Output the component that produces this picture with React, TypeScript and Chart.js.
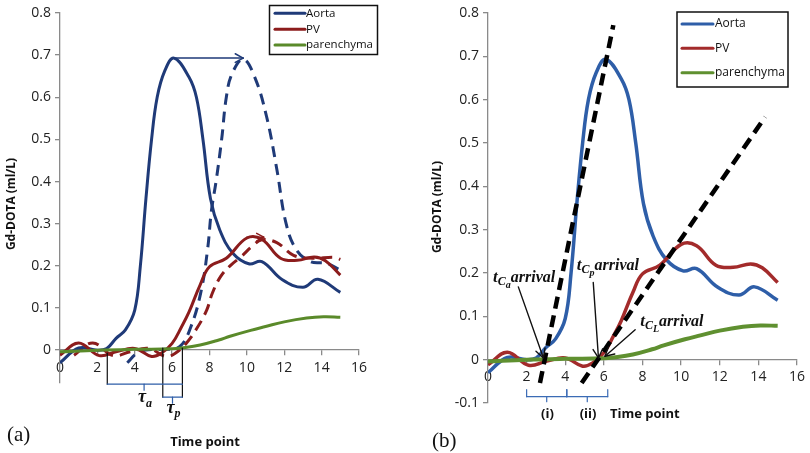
import React, { useEffect, useRef } from 'react';
import { Chart, registerables } from 'chart.js';
Chart.register(...registerables);

const FONT = "'Open Sans', 'DejaVu Sans', sans-serif";
const SERIF = "'Liberation Serif', 'DejaVu Serif', serif";

// ---------- data (time point, Gd-DOTA ml/L) ----------
const aortaT = [0, 1, 2, 2.5, 3, 3.5, 4, 4.3, 4.6, 4.9, 5.2, 5.6, 6.1, 6.9, 7.3, 7.65, 8.05, 8.55, 9.25, 10.1, 10.8, 11.9, 13, 13.8, 15];
const aortaV = [-0.03, 0.005, 0, 0.004, 0.028, 0.048, 0.095, 0.2, 0.36, 0.5, 0.6, 0.662, 0.693, 0.648, 0.6, 0.5, 0.36, 0.285, 0.23, 0.205, 0.21, 0.167, 0.149, 0.168, 0.137];

const pvT = [0, 1, 2.1, 3, 4, 4.9, 5.4, 6, 6.5, 6.9, 7.5, 8, 8.9, 10, 10.8, 11.8, 12.7, 13.6, 14.2, 15];
const pvV = [-0.012, 0.017, -0.013, -0.004, 0.004, -0.015, -0.008, 0.016, 0.055, 0.09, 0.155, 0.198, 0.218, 0.266, 0.263, 0.218, 0.213, 0.221, 0.212, 0.178];

const parT = [0, 2, 4, 6, 6.5, 7.5, 8.5, 9.1, 10.2, 11, 12, 13.2, 14.1, 15];
const parV = [-0.004, 0, 0.002, 0.003, 0.005, 0.012, 0.024, 0.033, 0.047, 0.056, 0.067, 0.076, 0.079, 0.078];

// delayed (shifted) curves in panel (a)
const aortaShT = [3.6, 4.1, 4.6, 5.6, 6.4, 7.0, 7.55, 7.9, 8.1, 8.35, 8.65, 8.9, 9.2, 9.8, 10.4, 11.05, 11.6, 12.1, 12.65, 13.4, 14.25, 15];
const aortaShV = [-0.03, -0.008, 0.0, 0.002, 0.008, 0.055, 0.14, 0.24, 0.33, 0.4, 0.5, 0.6, 0.655, 0.69, 0.65, 0.555, 0.43, 0.3, 0.238, 0.21, 0.206, 0.19];

const pvShT = [0.75, 1.75, 2.85, 3.75, 4.75, 5.65, 6.15, 6.75, 7.3, 7.85, 8.15, 8.6, 9.1, 9.7, 10.25, 10.8, 11.6, 12.5, 13.5, 14.7, 15];
const pvShV = [-0.012, 0.017, -0.013, -0.004, 0.004, -0.015, -0.008, 0.016, 0.05, 0.095, 0.135, 0.175, 0.2, 0.222, 0.245, 0.262, 0.255, 0.225, 0.218, 0.22, 0.215];

// tangent lines in panel (b)
const tanAortaT = [2.69, 6.49];
const tanAortaV = [-0.054, 0.772];
const tanPvT = [4.85, 14.35];
const tanPvV = [-0.054, 0.56];

// axes
const xTicks = [0, 2, 4, 6, 8, 10, 12, 14, 16];
const yTicksA = [0, 0.1, 0.2, 0.3, 0.4, 0.5, 0.6, 0.7, 0.8];
const yTicksB = [-0.1, 0, 0.1, 0.2, 0.3, 0.4, 0.5, 0.6, 0.7, 0.8];
const legendLabels = ['Aorta', 'PV', 'parenchyma'];

const pts = (t: number[], v: number[]) => t.map((x, i) => ({ x, y: v[i] }));

const palA = { aorta: '#1f3a78', pv: '#8c1c1c', par: '#5a8a2a' };
const palB = { aorta: '#2e5ea8', pv: '#a32b2b', par: '#5f9030' };

const AX = '#8a8a8a';

function scales(yMin: number, yTicks: number[], yWidth: number) {
  const grid = { display: true, drawOnChartArea: false, drawTicks: true, tickLength: 5, color: AX, lineWidth: 1.3 };
  const border = { display: true, color: AX, width: 1.3 };
  const ticks = { font: { family: FONT, size: 14 }, color: '#222', padding: 4, maxRotation: 0, autoSkip: false };
  return {
    x: {
      type: 'linear', min: 0, max: 16, position: { y: 0 },
      afterBuildTicks: (a: any) => { a.ticks = xTicks.map((v) => ({ value: v })); },
      ticks: { ...ticks, padding: 4, callback: (v: any) => String(v) },
      grid, border,
    },
    y: {
      type: 'linear', min: yMin, max: 0.8,
      afterBuildTicks: (a: any) => { a.ticks = yTicks.map((v) => ({ value: v })); },
      afterFit: (a: any) => { a.width = yWidth; },
      ticks: { ...ticks, callback: (v: any) => String(Math.round(v * 10) / 10) },
      grid, border,
    },
  };
}

function seg(ctx: any, x1: number, y1: number, x2: number, y2: number, color: string, w: number) {
  ctx.save();
  ctx.strokeStyle = color; ctx.lineWidth = w; ctx.lineCap = 'round';
  ctx.beginPath(); ctx.moveTo(x1, y1); ctx.lineTo(x2, y2); ctx.stroke();
  ctx.restore();
}

function arrow(ctx: any, x1: number, y1: number, x2: number, y2: number, color: string, w: number, head: number) {
  seg(ctx, x1, y1, x2, y2, color, w);
  const a = Math.atan2(y2 - y1, x2 - x1);
  seg(ctx, x2, y2, x2 - head * Math.cos(a - 0.5), y2 - head * Math.sin(a - 0.5), color, w);
  seg(ctx, x2, y2, x2 - head * Math.cos(a + 0.5), y2 - head * Math.sin(a + 0.5), color, w);
}

function legend(ctx: any, bx: number, by: number, bw: number, bh: number, rows: number[], lx0: number, lx1: number, tx: number, pal: any, fs: number) {
  ctx.save();
  ctx.fillStyle = '#fff';
  ctx.fillRect(bx, by, bw, bh);
  ctx.strokeStyle = '#111'; ctx.lineWidth = 1.5;
  ctx.strokeRect(bx, by, bw, bh);
  const cols = [pal.aorta, pal.pv, pal.par];
  ctx.font = `${fs}px ${FONT}`; ctx.textBaseline = 'middle'; ctx.textAlign = 'left'; ctx.fillStyle = '#111';
  rows.forEach((ry, i) => {
    seg(ctx, lx0, ry, lx1, ry, cols[i], 3);
    ctx.fillText(legendLabels[i], tx, ry);
  });
  ctx.restore();
}

function yTitle(ctx: any, cx: number, cy: number) {
  ctx.save();
  ctx.translate(cx, cy); ctx.rotate(-Math.PI / 2);
  ctx.font = `bold 12px ${FONT}`; ctx.fillStyle = '#111';
  ctx.textAlign = 'center'; ctx.textBaseline = 'middle';
  ctx.fillText('Gd-DOTA (ml/L)', 0, 0);
  ctx.restore();
}

function text(ctx: any, s: string, x: number, y: number, font: string, align = 'left', base = 'alphabetic') {
  ctx.save();
  ctx.font = font; ctx.fillStyle = '#111'; ctx.textAlign = align; ctx.textBaseline = base;
  ctx.fillText(s, x, y);
  ctx.restore();
}

type Part = [string, number, number];
function math(ctx: any, x: number, base: number, parts: Part[]) {
  ctx.save();
  ctx.fillStyle = '#111'; ctx.textBaseline = 'alphabetic'; ctx.textAlign = 'left';
  let cx = x;
  for (const [t, s, dy] of parts) {
    ctx.font = `italic bold ${s}px ${SERIF}`;
    ctx.fillText(t, cx, base + dy);
    cx += ctx.measureText(t).width;
  }
  ctx.restore();
}

const annotA = {
  id: 'annotA',
  afterDraw(chart: any) {
    const ctx = chart.ctx;
    const X = (v: number) => chart.scales.x.getPixelForValue(v);
    const Y = (v: number) => chart.scales.y.getPixelForValue(v);
    const y0 = Y(0);
    arrow(ctx, X(6.1), Y(0.693), X(9.8), Y(0.693), palA.aorta, 1.5, 9);
    arrow(ctx, X(10.0), Y(0.268), X(10.9), Y(0.268), palA.pv, 1.5, 8);
    // brackets
    const bl = '#111', bu = '#2e5ea8';
    seg(ctx, X(2.53), y0 + 3, X(2.53), y0 + 34, bl, 1.2);
    seg(ctx, X(5.5), y0 - 2, X(5.5), y0 + 47, bl, 1.2);
    seg(ctx, X(6.55), y0 - 2, X(6.55), y0 + 47, bl, 1.2);
    seg(ctx, X(2.53), y0 + 34, X(6.55), y0 + 34, bu, 1.2);
    seg(ctx, X(4.5), y0 + 34, X(4.5), y0 + 40, bu, 1.2);
    seg(ctx, X(5.5), y0 + 47, X(6.55), y0 + 47, bu, 1.2);
    seg(ctx, X(6.02), y0 + 47, X(6.02), y0 + 53, bu, 1.2);
    math(ctx, X(4.17), y0 + 52, [['τ', 18, 0], ['a', 12, 5]]);
    math(ctx, X(5.7), y0 + 63, [['τ', 18, 0], ['p', 12, 4]]);
    legend(ctx, 269.5, 5.5, 108, 49, [13.3, 29.3, 45], 275, 305, 306, palA, 11.5);
    yTitle(ctx, 12, 204);
    text(ctx, 'Time point', 205, 446, `bold 13px ${FONT}`, 'center');
    text(ctx, '(a)', 7, 441, `21px ${SERIF}`);
  },
};

const annotB = {
  id: 'annotB',
  afterDraw(chart: any) {
    const ctx = chart.ctx;
    const X = (v: number) => chart.scales.x.getPixelForValue(v);
    const Y = (v: number) => chart.scales.y.getPixelForValue(v);
    const y0 = Y(0);
    // arrival labels
    math(ctx, X(0.26), Y(0.18), [['t', 17, 0], ['C', 12, 3], ['a', 10, 6], ['arrival', 16, 0]]);
    arrow(ctx, X(1.57), Y(0.168), X(2.87), Y(0.004), '#111', 1.4, 10);
    math(ctx, X(4.6), Y(0.207), [['t', 17, 0], ['C', 12, 3], ['p', 10, 6], ['arrival', 16, 0]]);
    arrow(ctx, X(5.45), Y(0.178), X(5.72), Y(0.004), '#111', 1.4, 10);
    math(ctx, X(7.88), Y(0.078), [['t', 17, 0], ['C', 12, 3], ['L', 10, 6], ['arrival', 16, 0]]);
    arrow(ctx, X(7.62), Y(0.069), X(6.06), Y(0.008), '#111', 1.4, 10);
    // braces
    const bu = '#3b6bb5';
    const braces: [number, number][] = [[2.0, 4.08], [4.08, 6.2]];
    braces.forEach(([a, b]) => {
      seg(ctx, X(a), y0 + 30, X(a), y0 + 37, bu, 1.2);
      seg(ctx, X(b), y0 + 30, X(b), y0 + 37, bu, 1.2);
      seg(ctx, X(a), y0 + 37, X(b), y0 + 37, bu, 1.2);
      seg(ctx, X((a + b) / 2), y0 + 37, X((a + b) / 2), y0 + 42, bu, 1.2);
    });
    text(ctx, '(i)', X(3.08), y0 + 55, `bold 13px ${FONT}`, 'center', 'middle');
    text(ctx, '(ii)', X(5.18), y0 + 55, `bold 13px ${FONT}`, 'center', 'middle');
    text(ctx, 'Time point', 210, y0 + 55, `bold 13px ${FONT}`, 'left', 'middle');
    legend(ctx, 277, 12, 111, 75, [24, 48.3, 72.7], 282, 313, 315, palB, 12);
    yTitle(ctx, 38, 207);
    text(ctx, '(b)', 32, 447, `21px ${SERIF}`);
  },
};

function ds(t: number[], v: number[], color: string, width: number, order: number, dash: number[] = []) {
  return {
    data: pts(t, v), borderColor: color, borderWidth: width, borderDash: dash,
    pointRadius: 0, fill: false, tension: 0.4, order, borderJoinStyle: 'round',
  };
}

export default function App() {
  const refA = useRef<HTMLCanvasElement>(null);
  const refB = useRef<HTMLCanvasElement>(null);
  useEffect(() => {
    const common = {
      animation: false, responsive: false, maintainAspectRatio: false, devicePixelRatio: 1,
      plugins: { legend: { display: false }, tooltip: { enabled: false } },
    };
    const a = new Chart(refA.current as any, {
      type: 'line',
      data: {
        datasets: [
          ds(parT, parV, palA.par, 3, 0),
          ds(pvT, pvV, palA.pv, 3, 1),
          ds(aortaT, aortaV, palA.aorta, 3, 2),
          ds(pvShT, pvShV, palA.pv, 3, 3, [11, 7]),
          ds(aortaShT, aortaShV, palA.aorta, 3, 4, [11, 7]),
        ] as any,
      },
      options: {
        ...common,
        layout: { padding: { left: 0, right: 41, top: 13, bottom: 70 } },
        scales: scales(-0.078, yTicksA, 60) as any,
      } as any,
      plugins: [annotA],
    });
    const b = new Chart(refB.current as any, {
      type: 'line',
      data: {
        datasets: [
          ds(tanAortaT, tanAortaV, '#000', 4.5, -1, [12, 7]),
          ds(tanPvT, tanPvV, '#000', 4.5, -1, [12, 7]),
          ds(parT, parV, palB.par, 4, 0),
          ds(pvT, pvV, palB.pv, 3.5, 1),
          ds(aortaT, aortaV, palB.aorta, 3.5, 2),
        ] as any,
      },
      options: {
        ...common,
        layout: { padding: { left: 0, right: 13, top: 13, bottom: 50 } },
        scales: scales(-0.1, yTicksB, 88) as any,
      } as any,
      plugins: [annotB],
    });
    return () => { a.destroy(); b.destroy(); };
  }, []);
  return (
    <div style={{ position: 'absolute', left: 0, top: 0, width: 810, height: 453, background: '#fff' }}>
      <canvas ref={refA} width={400} height={453} style={{ position: 'absolute', left: 0, top: 0, width: 400, height: 453 }} />
      <canvas ref={refB} width={410} height={453} style={{ position: 'absolute', left: 400, top: 0, width: 410, height: 453 }} />
    </div>
  );
}
